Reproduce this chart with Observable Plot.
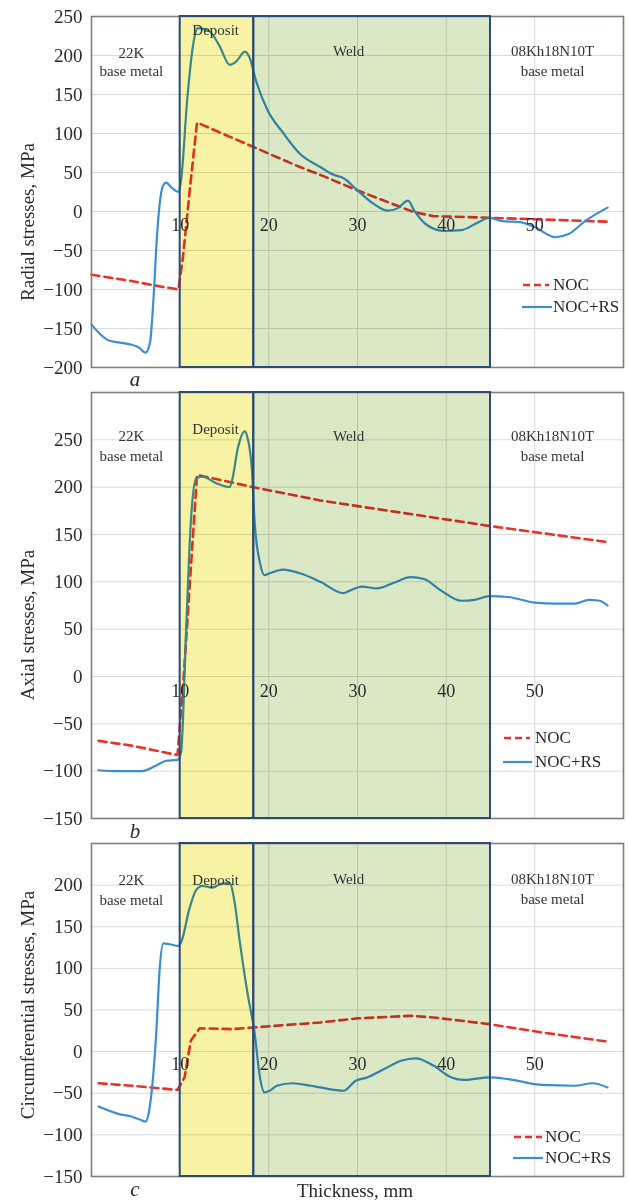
<!DOCTYPE html>
<html>
<head>
<meta charset="utf-8">
<script src="https://cdn.jsdelivr.net/npm/d3@7"></script>
<script src="https://cdn.jsdelivr.net/npm/@observablehq/plot@0.6"></script>
<style>
  body { margin: 0; background: #fff; }
  #wrap { position: relative; width: 628px; height: 1200px; font-family: "Liberation Serif", "DejaVu Serif", serif; color: #2a2a2a; overflow: hidden; }
  .panel { position: absolute; left: 0; }
  .ylab { position: absolute; white-space: nowrap; font-size: 19px; transform: translate(-50%, -50%) rotate(-90deg); }
  .letter { position: absolute; font-style: italic; font-size: 21px; transform: translate(-50%, -50%); }
  .xlab { position: absolute; font-size: 19px; transform: translate(-50%, -50%); white-space: nowrap; }
  .leg { position: absolute; font-size: 17px; white-space: nowrap; display: flex; align-items: center; transform: translateY(-50%); }
</style>
</head>
<body>
<div id="wrap"></div>
<script>
// ---------- data ----------
const xTicks = [10, 20, 30, 40, 50];
const gridX = [10, 20, 30, 40, 50, 60];
const zones = [
  {x1: 10, x2: 18.3, fill: "#f8f3a4"},
  {x1: 18.3, x2: 45, fill: "#dbe8c6"}
];
const zoneLabels = ["22K", "base metal", "Deposit", "Weld", "08Kh18N10T", "base metal"];
const zoneLabelX = [4.5, 4.5, 14, 29, 52, 52];

// Panel a: radial stresses
const radialTicks = [-200, -150, -100, -50, 0, 50, 100, 150, 200, 250];
const radialNOC = [[0,-81],[4.5,-89],[7.2,-95],[9.8,-100],[10.3,-60],[11.2,40],[11.9,114],[18.2,83],[23.5,57],[25.8,47],[30,27],[36.4,-1],[38.6,-6],[44.8,-8],[58.2,-13]];
const radialRS = [[0,-145],[1.9,-165],[4.2,-170],[5.3,-174],[6.1,-181],[6.6,-168],[7.0,-110],[7.4,-29],[8.0,31],[8.4,37],[9.1,30],[9.8,25],[10.1,40],[10.8,144],[11.4,209],[12.0,235],[13.3,231],[14.4,213],[15.6,188],[16.3,192],[17.3,205],[17.8,198],[18.6,166],[19.8,131],[21.6,101],[23.5,74],[25.8,57],[27.3,47],[28.4,43],[30,27],[31.8,10],[33.4,1],[34.5,4],[35.7,14],[36.4,1],[37.9,-18],[39.8,-25],[41.7,-24],[43.6,-14],[44.9,-8],[46.2,-12],[48.5,-14],[50,-20],[52.3,-33],[53.8,-29],[55.7,-12],[58.2,5]];

// Panel b: axial stresses
const axialTicks = [-150, -100, -50, 0, 50, 100, 150, 200, 250];
const axialNOC = [[0.8,-68],[4.5,-73],[9.7,-83],[10.4,0],[11.9,213],[18.2,200],[25.8,186],[30,180],[44.9,159],[58.2,142]];
const axialRS = [[0.8,-99],[3.1,-100],[5.7,-100],[7.3,-94],[8.4,-89],[9.7,-88],[10.1,-80],[10.7,56],[11.2,163],[11.8,209],[12.5,211],[14.1,204],[15.6,200],[15.9,209],[16.5,241],[17.3,259],[17.6,252],[18.1,217],[18.4,163],[19.0,120],[19.5,107],[20.1,109],[21.6,113],[23.5,109],[25.8,100],[28.4,88],[29.2,91],[30.5,95],[32.2,93],[34.1,99],[36,105],[37.5,103],[39.4,91],[41.7,80],[43.2,81],[44.9,85],[47,84],[50,78],[52.3,77],[54.5,77],[56.1,81],[57.3,80],[58.2,75]];

// Panel c: circumferential stresses
const circTicks = [-150, -100, -50, 0, 50, 100, 150, 200];
const circNOC = [[0.8,-38],[4.5,-41],[9.7,-46],[10.5,-31],[11.2,13],[12.2,28],[15.9,27],[18.2,29],[25.8,35],[30,40],[36,43],[38.6,41],[44.9,33],[50.8,23],[58.2,12]];
const circRS = [[0.8,-66],[3.1,-75],[4.5,-78],[5.3,-81],[6.1,-84],[6.5,-71],[7.3,22],[7.7,101],[8.1,130],[8.8,129],[9.8,127],[10.2,134],[11.0,170],[11.8,194],[12.5,199],[13.6,197],[14.8,202],[15.6,202],[16.1,182],[16.7,134],[17.6,70],[18.4,22],[19.0,-31],[19.5,-49],[20.1,-47],[20.9,-41],[22.7,-38],[24.7,-41],[25.8,-43],[28.4,-47],[29.8,-35],[31.1,-31],[33,-21],[34.9,-11],[36.6,-8],[38.6,-17],[40.6,-31],[42,-34],[44.9,-31],[47,-33],[50.8,-40],[54.5,-41],[56.5,-38],[58.2,-43]];

const seriesNames = ["NOC", "NOC+RS"];

// ---------- styles ----------
const RED = "#e2342b", BLUE = "#3a8ed3", NAVY = "#2b4a78", FRAME = "#877c74", GRID = "#d9d9d9";

function panel(cfg) {
  const {domain, ticks, noc, rs, height, mt, mb, labelDy, tickDy} = cfg;
  const annots = zoneLabels.map((t, i) =>
    Plot.text([t], {x: () => zoneLabelX[i], text: d => d, frameAnchor: "top", dy: labelDy[i], fontSize: 15, fill: "#333"}));
  return Plot.plot({
    width: 628, height, marginLeft: 91, marginRight: 5, marginTop: mt, marginBottom: mb,
    x: {domain: [0, 60], axis: null},
    y: {domain, axis: null},
    style: {fontFamily: "'Liberation Serif', serif", background: "transparent", overflow: "visible"},
    marks: [
      Plot.gridY(ticks, {stroke: GRID, strokeOpacity: 1, strokeWidth: 1}),
      Plot.gridX(gridX, {stroke: GRID, strokeOpacity: 1, strokeWidth: 1}),
      Plot.line(noc, {x: d => d[0], y: d => d[1], stroke: RED, strokeWidth: 2.6, strokeDasharray: "8,5"}),
      Plot.line(rs, {x: d => d[0], y: d => d[1], stroke: BLUE, strokeWidth: 2.2, curve: "monotone-x"}),
      Plot.rect(zones, {x1: "x1", x2: "x2", y1: () => domain[0], y2: () => domain[1], fill: "fill", mixBlendMode: "multiply"}),
      Plot.frame({stroke: FRAME, strokeWidth: 1.6}),
      Plot.rect(zones, {x1: "x1", x2: "x2", y1: () => domain[0], y2: () => domain[1], fill: "none", stroke: NAVY, strokeWidth: 2}),
      Plot.axisY(ticks, {tickSize: 0, tickPadding: 9, fontSize: 19, fill: "#2a2a2a"}),
      Plot.text(xTicks, {x: d => d, y: () => 0, dy: tickDy, fontSize: 18, fill: "#2a2a2a"}),
      ...annots
    ]
  });
}

const wrap = document.getElementById("wrap");
const panels = [
  {top: 0, domain: [-200, 250], ticks: radialTicks, noc: radialNOC, rs: radialRS, height: 390, mt: 16, mb: 23,
   labelDy: [31, 49, 8, 29, 29, 49], tickDy: 14, ylab: "Radial stresses, MPa", ylabY: 222, letter: "a", letterY: 379,
   leg: [{y: 285, x1: 523, x2: 549, tx: 553}, {y: 307, x1: 522, x2: 552, tx: 553}]},
  {top: 390, domain: [-150, 300], ticks: axialTicks, noc: axialNOC, rs: axialRS, height: 440, mt: 2, mb: 12,
   labelDy: [38, 58, 31, 38, 38, 58], tickDy: 15, ylab: "Axial stresses, MPa", ylabY: 625, letter: "b", letterY: 831,
   leg: [{y: 738, x1: 504, x2: 530, tx: 535}, {y: 762, x1: 503, x2: 532, tx: 535}]},
  {top: 830, domain: [-150, 250], ticks: circTicks, noc: circNOC, rs: circRS, height: 370, mt: 13, mb: 24,
   labelDy: [31, 51, 31, 30, 30, 50], tickDy: 13, ylab: "Circumferential stresses, MPa", ylabY: 1005, letter: "c", letterY: 1189,
   leg: [{y: 1137, x1: 514, x2: 542, tx: 545}, {y: 1158, x1: 513, x2: 543, tx: 545}]}
];

for (const p of panels) {
  const svg = panel(p);
  svg.classList.add("panel");
  svg.style.top = p.top + "px";
  wrap.appendChild(svg);

  const yl = document.createElement("div");
  yl.className = "ylab"; yl.textContent = p.ylab;
  yl.style.left = "28px"; yl.style.top = p.ylabY + "px";
  wrap.appendChild(yl);

  const lt = document.createElement("div");
  lt.className = "letter"; lt.textContent = p.letter;
  lt.style.left = "135px"; lt.style.top = p.letterY + "px";
  wrap.appendChild(lt);

  p.leg.forEach((L, i) => {
    const d = document.createElement("div");
    d.className = "leg";
    d.style.left = L.x1 + "px"; d.style.top = L.y + "px";
    const w = L.x2 - L.x1;
    const sw = i === 0
      ? `<svg width="${w}" height="6"><line x1="0" y1="3" x2="${w}" y2="3" stroke="${RED}" stroke-width="2.6" stroke-dasharray="7,4"/></svg>`
      : `<svg width="${w}" height="6"><line x1="0" y1="3" x2="${w}" y2="3" stroke="${BLUE}" stroke-width="2.2"/></svg>`;
    d.innerHTML = sw + `<span style="margin-left:${L.tx - L.x2}px">${seriesNames[i]}</span>`;
    wrap.appendChild(d);
  });
}

const xl = document.createElement("div");
xl.className = "xlab"; xl.textContent = "Thickness, mm";
xl.style.left = "355px"; xl.style.top = "1191px";
wrap.appendChild(xl);
</script>
</body>
</html>
